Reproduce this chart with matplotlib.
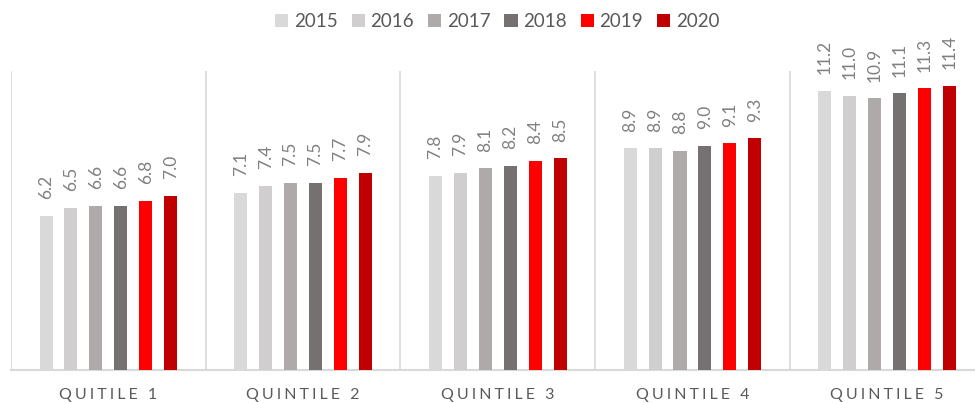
import matplotlib
matplotlib.use("Agg")
import matplotlib.pyplot as plt
import numpy as np

categories = ["QUITILE 1", "QUINTILE 2", "QUINTILE 3", "QUINTILE 4", "QUINTILE 5"]
years = ["2015", "2016", "2017", "2018", "2019", "2020"]
values_2015 = [6.2, 7.1, 7.8, 8.9, 11.2]
values_2016 = [6.5, 7.4, 7.9, 8.9, 11.0]
values_2017 = [6.6, 7.5, 8.1, 8.8, 10.9]
values_2018 = [6.6, 7.5, 8.2, 9.0, 11.1]
values_2019 = [6.8, 7.7, 8.4, 9.1, 11.3]
values_2020 = [7.0, 7.9, 8.5, 9.3, 11.4]
series = [values_2015, values_2016, values_2017, values_2018, values_2019, values_2020]
colors = ["#d9d9d9", "#d0cece", "#aeaaaa", "#767171", "#ff0000", "#c00000"]

plt.rcParams["font.family"] = ["Lato", "DejaVu Sans"]

fig = plt.figure(figsize=(9.75, 4.03), dpi=100)
ax = fig.add_axes([11 / 975, 33 / 403, 973.5 / 975, 299 / 403])

x = np.arange(len(categories))
step = 0.128
width = 0.067
bars = []
for i, (yr, vals, col) in enumerate(zip(years, series, colors)):
    pos = x + (i - 2.5) * step
    b = ax.bar(pos, vals, width=width, color=col, label=yr, zorder=3)
    bars.append(b)
    for px, v in zip(pos, vals):
        ax.annotate(f"{v:.1f}", (px, v), xytext=(0, 12), textcoords="offset points",
                    rotation=90, ha="center", va="bottom", fontsize=12.5,
                    color="#808080")

ax.set_xlim(-0.5, 4.5)
ax.set_ylim(0, 12)
for sep in np.arange(-0.5, 4.0, 1.0):
    ax.axvline(sep, color="#d9d9d9", lw=1.2, zorder=1)

for s in ["top", "right", "left"]:
    ax.spines[s].set_visible(False)
ax.spines["bottom"].set_color("#d9d9d9")
ax.spines["bottom"].set_linewidth(1.5)
ax.set_yticks([])
ax.set_xticks(x)
ax.set_xticklabels(["\u2009\u200a".join(c) for c in categories], fontsize=11.5, color="#595959")
ax.tick_params(axis="x", length=0, pad=13)

fig.legend(handles=bars, labels=years, loc="upper center", bbox_to_anchor=(0.51, 1.01),
           ncol=6, frameon=False, fontsize=13.5, handlelength=0.7, handleheight=0.7,
           handletextpad=0.3, columnspacing=0.75, labelcolor="#595959")

fig.savefig("out.png", dpi=100)
